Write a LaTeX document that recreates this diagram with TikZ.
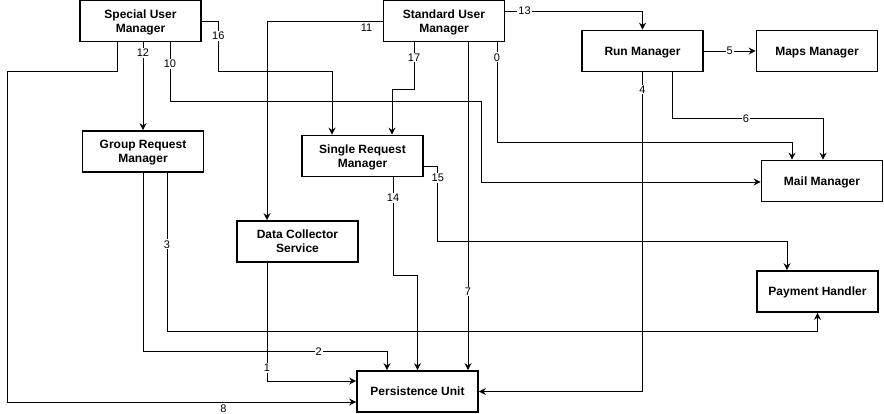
\documentclass[tikz,border=0pt]{standalone}
\usepackage{fontspec}
\setmainfont{Liberation Sans}
\usetikzlibrary{arrows.meta}
\tikzset{
  >={Stealth[length=7pt,width=7pt]},
  unit/.style={draw,line width=1.6pt,minimum width=121pt,minimum height=41pt,
    align=center,inner sep=2pt,text depth=0pt,font=\fontsize{12}{14}\selectfont\bfseries},
  link/.style={->,line width=0.9pt},
  lbl/.style={fill=white,inner sep=1pt,font=\fontsize{11}{12}\selectfont},
}
\begin{document}
\begin{tikzpicture}[x=1pt,y=-1pt]
  \useasboundingbox (0,0) rectangle (884,413);
  % components
  \node[unit] (spum) at (140.5,21) {Special User\\Manager};
  \node[unit] (stdum) at (444,21) {Standard User\\Manager};
  \node[unit] (run) at (642.5,51) {Run Manager};
  \node[unit] (maps) at (817,51) {Maps Manager};
  \node[unit] (mail) at (822,181) {Mail Manager};
  \node[unit] (grm) at (143,151.5) {Group Request\\Manager};
  \node[unit] (srm) at (362.5,156) {Single Request\\Manager};
  \node[unit] (dcs) at (297.5,241.5) {Data Collector\\Service};
  \node[unit] (pu) at (417.5,391.5) {Persistence Unit};
  \node[unit] (pay) at (817.5,291.5) {Payment Handler};
  % connections
  \draw[link] ([xshift=53pt]stdum.south) -- node[lbl,pos=0.15]{0} ++(0,100.5) -| ([xshift=-30pt]mail.north);
  \draw[link] ([xshift=-30.5pt]dcs.south) |- node[lbl,pos=0.445]{1} ([yshift=10.5pt]pu.west);
  \draw[link] (grm.south) -- ++(0,179) -| node[lbl,pos=0.36]{2} ([xshift=-30.5pt]pu.north);
  \draw[link] ([xshift=24pt]grm.south) -- node[lbl,pos=0.45]{3} ++(0,159) -| (pay.south);
  \draw[link] (run.south) |- node[lbl,pos=0.027]{4} (pu.east);
  \draw[link] (run) -- node[lbl]{5} (maps);
  \draw[link] ([xshift=29.5pt]run.south) -- ++(0,46) -| node[lbl,pos=0.245]{6} ([xshift=1pt]mail.north);
  \draw[link] ([xshift=24pt]stdum.south) -- node[lbl,pos=0.76]{7} ([xshift=50.5pt]pu.north);
  \draw[link] ([xshift=-23.5pt]spum.south) -- ++(0,29.5) -- ++(-110,0) |- node[lbl,pos=0.81,anchor=north,yshift=-1pt]{8} ([yshift=-10.5pt]pu.west);
  \draw[link] ([xshift=29.5pt]spum.south) -- node[lbl,pos=0.36]{10} ++(0,59.5) -- ++(311,0) |- ([yshift=-1pt]mail.west);
  \draw[link] (stdum.west) -| node[lbl,pos=0.07,anchor=north,yshift=-1pt]{11} ([xshift=-30.5pt]dcs.north);
  \draw[link] ([xshift=2.5pt]spum.south) -- node[lbl,pos=0.12]{12} (grm.north);
  \draw[link] ([yshift=10pt]stdum.east) -| node[lbl,pos=0.07]{13} (run.north);
  \draw[link] ([xshift=30.5pt]srm.south) -- node[lbl,pos=0.21]{14} ++(0,98) -| (pu.north);
  \draw[link] ([yshift=-10pt]srm.east) -- ++(14,0) -- node[lbl,pos=0.16]{15} ++(0,75) -| ([xshift=-30.5pt]pay.north);
  \draw[link] (spum.east) -- ++(16.5,0) -- node[lbl,pos=0.3]{16} ++(0,50) -| ([xshift=-30.5pt]srm.north);
  \draw[link] ([xshift=-30pt]stdum.south) -- node[lbl,pos=0.32]{17} ++(0,47.5) -| ([xshift=29.5pt]srm.north);
\end{tikzpicture}
\end{document}
